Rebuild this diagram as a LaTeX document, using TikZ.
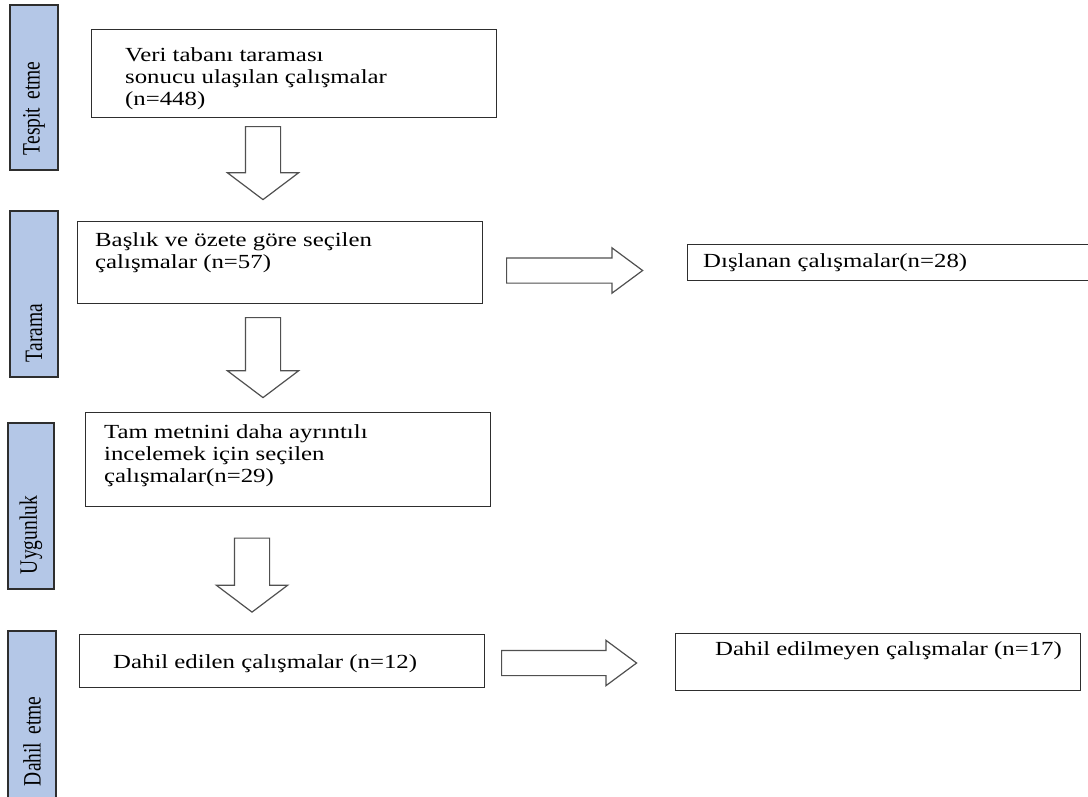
\documentclass[tikz,border=0pt]{standalone}
\usepackage{fontspec}
\setmainfont{Liberation Serif}[FakeStretch=1.24]
\newfontfamily\stagefont{Liberation Serif}[FakeStretch=0.78, WordSpace=0.5]
\usepackage{tikz}
\usetikzlibrary{positioning,shapes.arrows}
\definecolor{stageBlue}{HTML}{B4C7E7}
\definecolor{frameGray}{HTML}{2E2E2E}
\definecolor{arrowGray}{HTML}{505050}

\begin{document}
\begin{tikzpicture}[x=1pt, y=-1pt,
    stage/.style={draw=frameGray, fill=stageBlue, line width=1.4pt, rotate=90,
      minimum height=48pt, text width=#1, inner xsep=15pt, inner ysep=2pt,
      align=left, font=\stagefont\fontsize{25}{28}\selectfont},
    box/.style={draw=frameGray, line width=1.4pt, anchor=north west, inner sep=0pt},
    boxtext/.style={align=left, inner sep=0pt, font=\fontsize{20}{22}\selectfont},
    downarrow/.style={single arrow, draw=arrowGray, fill=white, line width=1.2pt,
      rotate=-90, anchor=tail, inner xsep=0pt, inner ysep=17pt,
      single arrow head extend=18pt, single arrow tip angle=106},
    rightarrow/.style={single arrow, draw=arrowGray, fill=white, line width=1.2pt,
      anchor=tail, inner xsep=0pt, inner ysep=12pt,
      single arrow head extend=10pt, single arrow tip angle=73},
  ]
  \useasboundingbox (0,0) rectangle (1088,796);

  % Stages
  \node[stage=135pt] (tespit) at (34,87.5) {Tespit etme};
  \node[stage=136pt] (tarama) at (34,294) {Tarama};
  \node[stage=136pt, minimum height=46pt] (uygunluk) at (31,506) {Uygunluk};
  \node[stage=140pt] (dahilEtme) at (32,716) {Dahil etme};

  % Boxes
  \node[box, minimum width=405pt, minimum height=88pt] (veri) at (91,29) {};
  \node[box, minimum width=405pt, minimum height=82pt] (baslik) at (77,221) {};
  \node[box, minimum width=405pt, minimum height=94pt] (tam) at (85,412) {};
  \node[box, minimum width=405pt, minimum height=53pt] (dahil) at (79,634) {};
  \node[box, minimum width=420pt, minimum height=36pt] (dislanan) at (687,244) {};
  \node[box, minimum width=405pt, minimum height=57pt] (edilmeyen) at (675,633) {};

  % Box texts
  \node[boxtext, right=34pt of veri.west, yshift=-5pt] (veriText)
    {Veri tabanı taraması\\sonucu ulaşılan çalışmalar\\(n=448)};
  \node[boxtext, right=18pt of baslik.west, yshift=10pt] (baslikText)
    {Başlık ve özete göre seçilen\\çalışmalar (n=57)};
  \node[boxtext, right=19pt of tam.west, yshift=4pt] (tamText)
    {Tam metnini daha ayrıntılı\\incelemek için seçilen\\çalışmalar(n=29)};
  \node[boxtext, right=34pt of dahil.west, yshift=-2pt] (dahilText)
    {Dahil edilen çalışmalar (n=12)};
  \node[boxtext, right=16pt of dislanan.west] (dislananText)
    {Dışlanan çalışmalar(n=28)};
  \node[boxtext, right=40pt of edilmeyen.west, yshift=11pt] (edilmeyenText)
    {Dahil edilmeyen çalışmalar (n=17)};

  % Block arrows
  \node[downarrow, minimum height=73pt] (down1) at (263,126) {};
  \node[downarrow, minimum height=80pt] (down2) at (263,317) {};
  \node[downarrow, minimum height=74pt] (down3) at (252,537.5) {};
  \node[rightarrow, minimum height=136pt] (right1) at (506,270.5) {};
  \node[rightarrow, minimum height=135pt] (right2) at (501,663) {};
\end{tikzpicture}
\end{document}
